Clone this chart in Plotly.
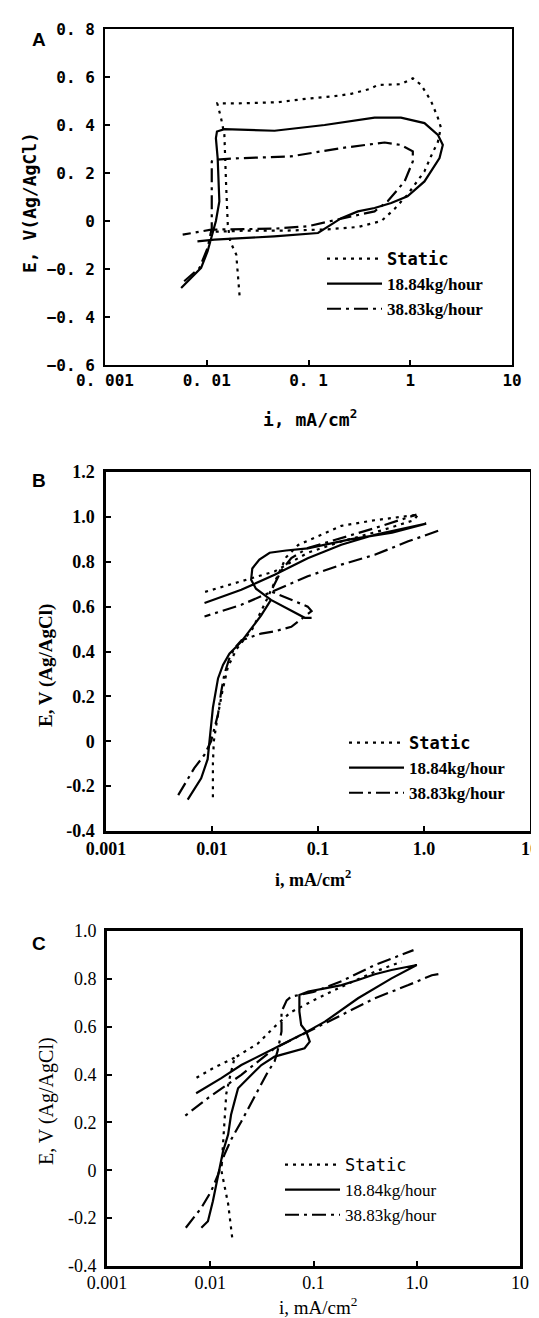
import plotly.graph_objects as go

# ---------------- DATA ----------------
x_tickvals = [0.001, 0.01, 0.1, 1, 10]
A_x_ticktext = ["0. 001", "0. 01", "0. 1", "1", "10"]
BC_x_ticktext = ["0.001", "0.01", "0.1", "1.0", "10"]

A_y_tickvals = [-0.6, -0.4, -0.2, 0, 0.2, 0.4, 0.6, 0.8]
A_y_ticktext = ["\u22120. 6", "\u22120. 4", "\u22120. 2", "0", "0. 2", "0. 4", "0. 6", "0. 8"]
B_y_tickvals = [-0.4, -0.2, 0, 0.2, 0.4, 0.6, 0.8, 1.0, 1.2]
B_y_ticktext = ["-0.4", "-0.2", "0", "0.2", "0.4", "0.6", "0.8", "1.0", "1.2"]
C_y_tickvals = [-0.4, -0.2, 0, 0.2, 0.4, 0.6, 0.8, 1.0]
C_y_ticktext = ["-0.4", "-0.2", "0", "0.2", "0.4", "0.6", "0.8", "1.0"]

series_names = ["Static", "18.84kg/hour", "38.83kg/hour"]

# Panel A
A_static_i = [0.021, 0.0205, 0.0195, 0.017, 0.0161, 0.0155, 0.0149, 0.0138, 0.0127, 0.02, 0.05, 0.098, 0.18, 0.263, 0.40, 0.48, 0.81, 1.06, 1.28, 1.6, 1.87, 2.0, 1.87, 1.6, 1.38, 0.94, 0.70, 0.52, 0.306, 0.15, 0.06, 0.025, 0.012]
A_static_E = [-0.31, -0.25, -0.14, -0.085, -0.015, 0.15, 0.36, 0.43, 0.49, 0.49, 0.495, 0.51, 0.52, 0.53, 0.55, 0.567, 0.57, 0.595, 0.567, 0.5, 0.43, 0.39, 0.33, 0.27, 0.207, 0.11, 0.05, 0.0, -0.025, -0.035, -0.04, -0.04, -0.045]
A_18_i = [0.0056, 0.0088, 0.0102, 0.0114, 0.0123, 0.0133, 0.0128, 0.0123, 0.0126, 0.0149, 0.0464, 0.144, 0.446, 0.81, 1.38, 1.87, 2.09, 1.94, 1.38, 0.94, 0.65, 0.446, 0.306, 0.21, 0.124, 0.046, 0.0218, 0.0119, 0.0081]
A_18_E = [-0.279, -0.195, -0.126, -0.057, 0.0, 0.082, 0.262, 0.345, 0.373, 0.383, 0.376, 0.40, 0.431, 0.431, 0.408, 0.359, 0.317, 0.262, 0.165, 0.103, 0.075, 0.054, 0.04, 0.012, -0.05, -0.064, -0.071, -0.078, -0.085]
A_38_i = [0.006, 0.0085, 0.0102, 0.0112, 0.0112, 0.0114, 0.0218, 0.067, 0.21, 0.56, 0.81, 1.06, 1.06, 0.88, 0.6, 0.446, 0.21, 0.098, 0.046, 0.0218, 0.011, 0.0058]
A_38_E = [-0.251, -0.195, -0.112, -0.03, 0.248, 0.255, 0.262, 0.269, 0.304, 0.327, 0.317, 0.29, 0.248, 0.165, 0.082, 0.04, 0.01, -0.022, -0.032, -0.033, -0.036, -0.057]

# Panel B
B_static_i = [0.0102, 0.0102, 0.0104, 0.0112, 0.0125, 0.0141, 0.017, 0.024, 0.032, 0.04, 0.05, 0.065, 0.166, 0.343, 0.88, 0.8, 0.4, 0.166, 0.08, 0.039, 0.0189, 0.0085]
B_static_E = [-0.25, -0.1, 0.0, 0.1, 0.22, 0.33, 0.41, 0.5, 0.62, 0.72, 0.82, 0.875, 0.96, 0.985, 1.01, 0.985, 0.94, 0.89, 0.84, 0.757, 0.712, 0.665]
B_18_i = [0.0059, 0.0079, 0.0091, 0.0095, 0.0102, 0.0114, 0.0127, 0.0146, 0.019, 0.029, 0.036, None, 0.087, 0.075, 0.036, 0.026, 0.0234, 0.024, 0.028, 0.035, 0.05, 0.08, 0.2, 0.5, 1.05, 0.343, 0.166, 0.08, 0.039, 0.0189, 0.0085]
B_18_E = [-0.26, -0.165, -0.08, 0.01, 0.15, 0.28, 0.34, 0.39, 0.445, 0.56, 0.63, None, 0.55, 0.55, 0.63, 0.68, 0.72, 0.77, 0.81, 0.84, 0.85, 0.86, 0.9, 0.93, 0.97, 0.92, 0.876, 0.816, 0.742, 0.675, 0.616]
B_38_i = [0.0048, 0.0068, 0.0085, 0.0098, 0.0114, 0.0122, 0.0131, 0.0146, 0.0163, 0.019, 0.029, 0.039, 0.056, 0.087, 0.08, 0.036, 0.045, 0.056, 0.08, 0.166, 0.343, 0.85, None, 1.36, 0.71, 0.343, 0.166, 0.08, 0.0189, 0.0085]
B_38_E = [-0.24, -0.12, -0.06, 0.0, 0.12, 0.22, 0.3, 0.37, 0.415, 0.45, 0.48, 0.49, 0.51, 0.58, 0.6, 0.668, 0.76, 0.816, 0.861, 0.906, 0.95, 1.01, None, 0.938, 0.891, 0.831, 0.787, 0.735, 0.608, 0.556]

# Panel C
C_static_i = [0.0163, 0.0149, 0.0128, 0.0133, 0.0136, 0.0143, 0.0154, 0.0172, 0.029, 0.042, 0.06, 0.1, 0.187, 0.393, 0.714, None, 0.0172, 0.011, 0.0068]
C_static_E = [-0.28, -0.14, 0.0, 0.13, 0.2, 0.32, 0.385, 0.47, 0.53, 0.6, 0.66, 0.71, 0.767, 0.83, 0.872, None, 0.47, 0.43, 0.378]
C_18_i = [0.0082, 0.0095, 0.0106, 0.0119, 0.0133, 0.0149, 0.0159, 0.0172, 0.0186, 0.0232, 0.0313, 0.042, 0.061, 0.082, 0.092, 0.085, 0.076, 0.073, 0.073, 0.089, 0.129, 0.187, 0.27, 0.393, 0.57, 0.83, 1.0, 0.57, 0.27, 0.129, 0.076, 0.042, 0.02, 0.0128, 0.0073]
C_18_E = [-0.24, -0.213, -0.129, -0.018, 0.079, 0.149, 0.232, 0.288, 0.343, 0.385, 0.44, 0.475, 0.496, 0.51, 0.538, 0.58, 0.607, 0.663, 0.733, 0.747, 0.76, 0.774, 0.795, 0.819, 0.837, 0.851, 0.858, 0.802, 0.719, 0.621, 0.566, 0.51, 0.44, 0.385, 0.322]
C_38_i = [0.0058, 0.0082, 0.0102, 0.0119, 0.0137, 0.016, 0.02, 0.025, 0.0313, 0.036, 0.042, 0.045, 0.049, 0.049, 0.055, 0.061, 0.1, 0.187, 0.393, 0.93, None, 1.62, 1.4, 0.83, 0.393, 0.187, 0.089, 0.042, 0.02, 0.0095, 0.0056]
C_38_E = [-0.24, -0.157, -0.088, -0.018, 0.065, 0.13, 0.204, 0.28, 0.36, 0.41, 0.455, 0.5, 0.58, 0.663, 0.71, 0.726, 0.745, 0.79, 0.858, 0.92, None, 0.82, 0.815, 0.774, 0.719, 0.649, 0.58, 0.51, 0.399, 0.302, 0.225]

# ---------------- FIGURE ----------------
W, H = 539, 1318
def px(x):
    return x / W
def py(y):
    return 1 - y / H

MONO = "DejaVu Sans Mono"
SERIF = "Liberation Serif"

fig = go.Figure()

styles = [dict(dash="3px,5px", width=2.2), dict(dash="solid", width=2.2), dict(dash="14px,5px,3px,5px", width=2.2)]
panels = [
    ("x", "y", "legend", [(A_static_i, A_static_E), (A_18_i, A_18_E), (A_38_i, A_38_E)]),
    ("x2", "y2", "legend2", [(B_static_i, B_static_E), (B_18_i, B_18_E), (B_38_i, B_38_E)]),
    ("x3", "y3", "legend3", [(C_static_i, C_static_E), (C_18_i, C_18_E), (C_38_i, C_38_E)]),
]
for xa, ya, lg, data in panels:
    for k, (xi, yi) in enumerate(data):
        nm = series_names[k]
        if k == 0:
            nm = "<span style='font-family:DejaVu Sans Mono'>Static</span>"
        fig.add_trace(go.Scatter(x=xi, y=yi, mode="lines", name=nm, xaxis=xa, yaxis=ya,
                                 legend=lg, connectgaps=False,
                                 line=dict(color="black", **styles[k])))

def xaxis_cfg(dom, ticktext, font, lw, standoff):
    return dict(domain=dom, type="log", range=[-3, 1], tickvals=x_tickvals, ticktext=ticktext,
                showline=True, mirror=True, linecolor="black", linewidth=lw,
                ticks="inside", ticklen=5, tickwidth=2, tickcolor="black",
                ticklabelstandoff=standoff,
                showgrid=False, zeroline=False, tickfont=font, fixedrange=True)

def yaxis_cfg(dom, rng, tv, tt, font, anchor, lw, standoff):
    return dict(domain=dom, range=rng, tickvals=tv, ticktext=tt, anchor=anchor,
                showline=True, mirror=True, linecolor="black", linewidth=lw,
                ticks="inside", ticklen=5, tickwidth=2, tickcolor="black",
                ticklabelstandoff=standoff,
                showgrid=False, zeroline=False, tickfont=font, fixedrange=True)

fA = dict(family=MONO, size=16, color="black", weight="bold")
fB = dict(family=SERIF, size=18, color="black", weight="bold")
fC = dict(family=SERIF, size=18, color="black")

legfont_bold = dict(family=SERIF, size=17, color="black", weight="bold")
legfont = dict(family=SERIF, size=17, color="black")

fig.update_layout(
    width=W, height=H, template="none",
    margin=dict(l=0, r=0, t=0, b=0, autoexpand=False),
    paper_bgcolor="white", plot_bgcolor="white",
    xaxis=xaxis_cfg([px(97), px(504)], A_x_ticktext, fA, 2, 0),
    yaxis=yaxis_cfg([py(357), py(21)], [-0.6, 0.8], A_y_tickvals, A_y_ticktext, fA, "x", 2, 5),
    xaxis2=xaxis_cfg([px(98), px(522)], BC_x_ticktext, fB, 2.5, 0) | dict(anchor="y2"),
    yaxis2=yaxis_cfg([py(823), py(464)], [-0.4, 1.2], B_y_tickvals, B_y_ticktext, fB, "x2", 2.5, 5),
    xaxis3=xaxis_cfg([px(99), px(512)], BC_x_ticktext, fC, 3, -2) | dict(anchor="y3"),
    yaxis3=yaxis_cfg([py(1258), py(923)], [-0.4, 1.0], C_y_tickvals, C_y_ticktext, fC, "x3", 3, 4),
    showlegend=True,
    legend=dict(x=px(314), y=py(233), xanchor="left", yanchor="top", itemwidth=55,
                font=legfont_bold, bgcolor="rgba(0,0,0,0)", tracegroupgap=0),
    legend2=dict(x=px(336), y=py(717), xanchor="left", yanchor="top", itemwidth=55,
                 font=legfont_bold, bgcolor="rgba(0,0,0,0)", tracegroupgap=0),
    legend3=dict(x=px(272), y=py(1139), xanchor="left", yanchor="top", itemwidth=55,
                 font=legfont, bgcolor="rgba(0,0,0,0)", tracegroupgap=0),
)

ann = []
def add_text(text, x, y, font, angle=0):
    ann.append(dict(text=text, x=px(x), y=py(y), xref="paper", yref="paper",
                    xanchor="center", yanchor="middle", textangle=angle,
                    showarrow=False, font=font))

# Panel letters
for lbl, yy in [("A", 32), ("B", 473), ("C", 935)]:
    add_text("<b>%s</b>" % lbl, 31, yy, dict(family="Liberation Sans", size=19, color="black"))
# Axis titles
add_text("<b>E, V(Ag/AgCl)</b>", 22, 195, dict(family=MONO, size=18, color="black"), -90)
add_text("<b>i, mA/cm<sup>2</sup></b>", 302, 410, dict(family=MONO, size=18, color="black"))
add_text("<b>E, V (Ag/AgCl)</b>", 38, 658, dict(family=SERIF, size=19, color="black"), -90)
add_text("<b>i, mA/cm<sup>2</sup></b>", 305, 870, dict(family=SERIF, size=18, color="black"))
add_text("E, V (Ag/AgCl)", 38, 1093, dict(family=SERIF, size=20, color="black"), -90)
add_text("i, mA/cm<sup>2</sup>", 310, 1298, dict(family=SERIF, size=19, color="black"))
fig.update_layout(annotations=ann)

fig.write_html("out.html")
